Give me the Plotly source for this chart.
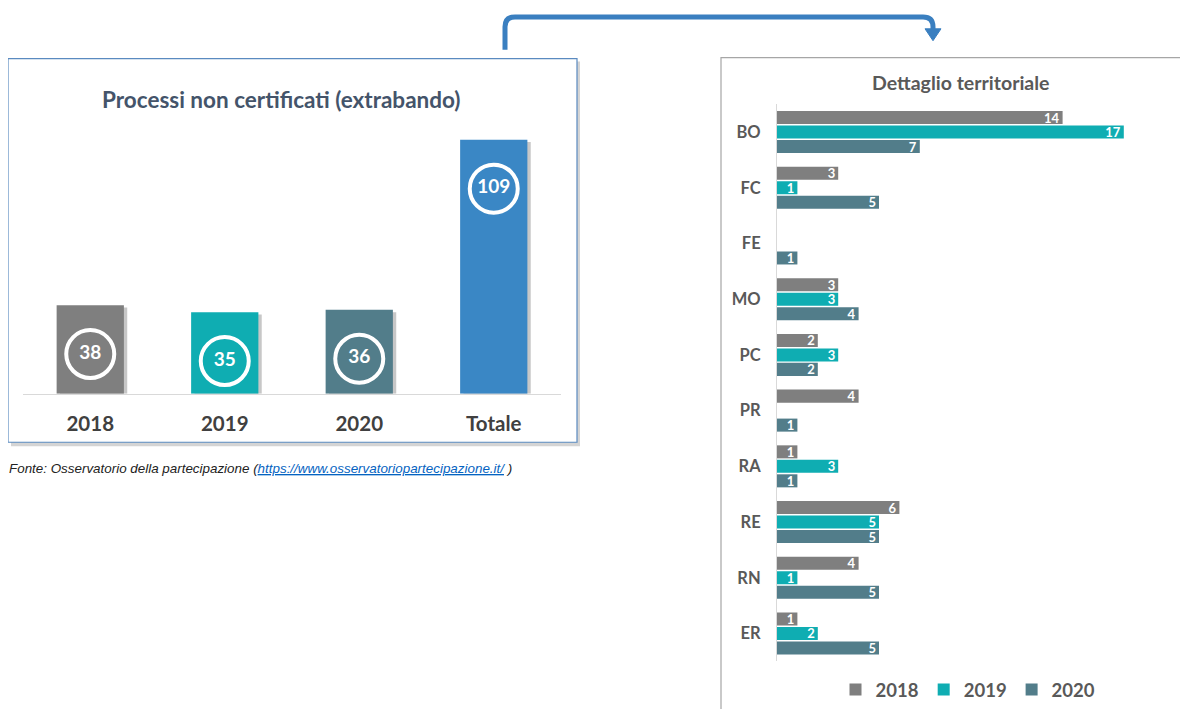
import plotly.graph_objects as go

# ---- data ----
years = ["2018", "2019", "2020", "Totale"]
year_totals = [38, 35, 36, 109]

provinces = ["BO", "FC", "FE", "MO", "PC", "PR", "RA", "RE", "RN", "ER"]
v2018 = [14, 3, 0, 3, 2, 4, 1, 6, 4, 1]
v2019 = [17, 1, 0, 3, 3, 0, 3, 5, 1, 2]
v2020 = [7, 5, 1, 4, 2, 1, 1, 5, 5, 5]

GRAY = "#7f7f7f"
TEAL = "#0fadb2"
SLATE = "#527d8a"
BLUE = "#3a87c5"
year_colors = [GRAY, TEAL, SLATE, BLUE]

# the page body has an 8px margin, so the figure starts at (8, 8)
OFF = 8
W, H = 1188 - OFF, 709 - OFF


def fx(p):
    return (p - OFF) / W


def fy(p):
    return 1 - (p - OFF) / H


fig = go.Figure()

# ---- left: totals per year ----
# soft drop shadow behind the columns
fig.add_trace(go.Bar(
    x=years, y=[v - 1 for v in year_totals], width=0.5, offset=-0.225,
    marker=dict(color="rgba(0,0,0,0.22)", line=dict(width=0)),
    xaxis="x", yaxis="y", showlegend=False, hoverinfo="skip",
))
fig.add_trace(go.Bar(
    x=years, y=year_totals, width=0.5, offset=-0.25,
    marker=dict(color=year_colors, line=dict(width=0)),
    xaxis="x", yaxis="y", showlegend=False, hoverinfo="x+y",
))
# white ring labels
fig.add_trace(go.Scatter(
    x=years, y=[v - 21 for v in year_totals],
    mode="markers+text",
    marker=dict(symbol="circle", size=48, color=year_colors,
                line=dict(color="white", width=4)),
    text=[str(v) for v in year_totals], textposition="middle center",
    textfont=dict(family="Lato", size=19, color="white", weight="bold"),
    xaxis="x", yaxis="y", showlegend=False, hoverinfo="skip",
))

# ---- right: territorial detail ----
for name, vals, col in [("2018", v2018, GRAY), ("2019", v2019, TEAL), ("2020", v2020, SLATE)]:
    fig.add_trace(go.Bar(
        y=provinces, x=vals, name=name, orientation="h",
        marker=dict(color=col, line=dict(width=0)),
        text=[str(v) if v else "" for v in vals],
        textposition="inside", insidetextanchor="end", constraintext="none", textangle=0,
        textfont=dict(family="Lato", size=13, color="white", weight="bold"),
        xaxis="x2", yaxis="y2",
    ))


def rect(x0, y0, x1, y1, **kw):
    return dict(type="rect", xref="paper", yref="paper",
                x0=fx(x0), x1=fx(x1), y0=fy(y1), y1=fy(y0), layer="below", **kw)


shapes = [
    # left panel frame + shadow
    rect(11, 62, 580, 450, fillcolor="#d4d4d4", line=dict(width=0)),
    rect(8, 59, 577, 446, fillcolor="white", line=dict(color="#5a8ac0", width=1.2)),
    # right panel frame + shadow (runs off the page)
    rect(724, 61, 1260, 780, fillcolor="#dcdcdc", line=dict(width=0)),
    rect(721, 58, 1250, 770, fillcolor="white", line=dict(color="#a6a6a6", width=1.2)),
]

# connector arrow
path = "M {},{} L {},{} Q {},{} {},{} L {},{} Q {},{} {},{} L {},{}".format(
    fx(505), fy(50), fx(505), fy(27), fx(505), fy(17), fx(515), fy(17),
    fx(923), fy(17), fx(933), fy(17), fx(933), fy(27), fx(933), fy(31))
shapes.append(dict(type="path", xref="paper", yref="paper", path=path,
                   line=dict(color="#3a7fc0", width=5), layer="above"))
head = "M {},{} L {},{} L {},{} Z".format(fx(925), fy(29), fx(941), fy(29), fx(933), fy(41))
shapes.append(dict(type="path", xref="paper", yref="paper", path=head,
                   fillcolor="#3a7fc0", line=dict(color="#3a7fc0", width=1), layer="above"))

annotations = [
    dict(text="<b>Processi non certificati (extrabando)</b>", x=fx(281), y=fy(100),
         xref="paper", yref="paper", showarrow=False, xanchor="center", yanchor="middle",
         font=dict(family="Lato", size=22.5, color="#44546a")),
    dict(text="<b>Dettaglio territoriale</b>", x=fx(961), y=fy(83),
         xref="paper", yref="paper", showarrow=False, xanchor="center", yanchor="middle",
         font=dict(family="Lato", size=19.5, color="#595959")),
    dict(text="<i>Fonte: Osservatorio della partecipazione (<a href='https://www.osservatoriopartecipazione.it/' "
              "style='color:#0563c1;text-decoration:underline'>https://www.osservatoriopartecipazione.it/</a> )</i>",
         x=fx(7), y=fy(472), xref="paper", yref="paper", showarrow=False,
         xanchor="left", yanchor="middle",
         font=dict(family="Liberation Sans", size=13.4, color="#222222")),
]

fig.update_layout(
    width=W, height=H,
    margin=dict(l=0, r=0, t=0, b=0),
    paper_bgcolor="white", plot_bgcolor="rgba(0,0,0,0)",
    barmode="group", bargap=0.22, bargroupgap=0.1,
    shapes=shapes, annotations=annotations,
    xaxis=dict(domain=[fx(23), fx(561)], showgrid=False, zeroline=False,
               showline=True, linecolor="#d9d9d9", linewidth=1, ticks="",
               ticklabelstandoff=12,
               tickfont=dict(family="Lato", size=20.5, color="#404040", weight="bold")),
    yaxis=dict(domain=[fy(397), fy(131)], range=[0, 113.2], visible=False),
    xaxis2=dict(domain=[fx(777), 1.0], range=[0, (1188 - 777) / 20.4], visible=False),
    yaxis2=dict(domain=[fy(667), fy(105)], anchor="x2", autorange="reversed",
                showgrid=False, zeroline=False, showline=True, linecolor="#d9d9d9",
                linewidth=1, ticks="", ticklabelstandoff=12,
                tickfont=dict(family="Lato", size=16.5, color="#595959", weight="bold")),
    legend=dict(orientation="h", x=fx(968), xanchor="center", y=fy(696), yanchor="middle",
                font=dict(family="Lato", size=18.5, color="#595959", weight="bold"),
                bgcolor="rgba(0,0,0,0)", itemwidth=30, tracegroupgap=0),
)
fig.update_xaxes(fixedrange=True)
fig.update_yaxes(fixedrange=True)

fig.write_html("out.html")
